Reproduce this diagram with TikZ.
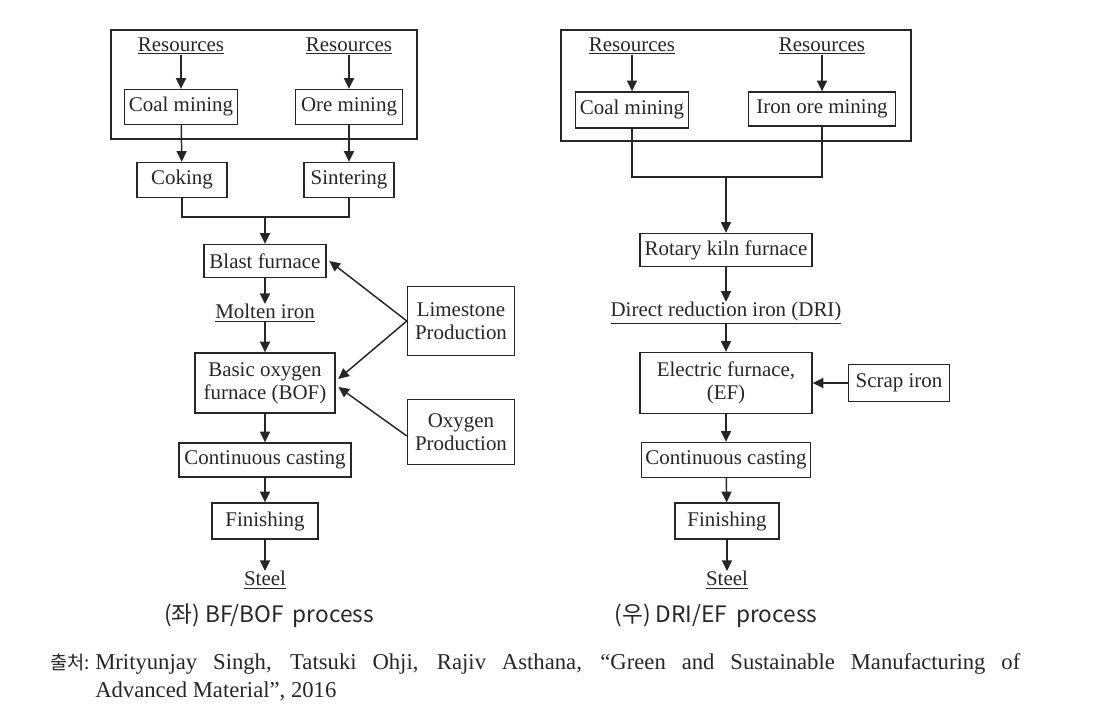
\documentclass[tikz,border=0pt]{standalone}
\usepackage{fontspec}
\setmainfont{Liberation Serif}
\newfontfamily\cjk{Noto Sans CJK KR}
\usetikzlibrary{arrows.meta}
\definecolor{ink}{HTML}{262626}
\newcommand\diagfont{\fontsize{15.7}{17.3}\selectfont}
\tikzset{
  box/.style={draw=ink, line width=1pt, inner sep=0pt, font=\diagfont, text=ink, align=center},
  wh/.style 2 args={minimum width=#1*0.75pt, minimum height=#2*0.75pt},
  lbl/.style={inner sep=0pt, font=\diagfont, text=ink},
  arr/.style={draw=ink, line width=1.1pt, -{Triangle[length=8pt,width=7.5pt]}},
  ln/.style={draw=ink, line width=1pt},
}
\begin{document}
\begin{tikzpicture}[x=0.75pt,y=-0.75pt]
\useasboundingbox (0,0) rectangle (1093,716);
% left: BF/BOF
\draw[ln] (111,30) rectangle (417,139);
\node[lbl] (resL1) at (181,46) {\underline{Resources}};
\node[lbl] (resL2) at (349,46) {\underline{Resources}};
\node[box,wh={113}{35}] (coalL) at (181,107) {Coal mining};
\node[box,wh={107}{35}] (ore) at (349,107) {Ore mining};
\node[box,wh={90}{35}] (coke) at (182,180) {Coking};
\node[box,wh={90}{35}] (sinter) at (349,180) {Sintering};
\coordinate (mergeL) at (265,217);
\node[box,wh={122}{33}] (blast) at (265,261) {Blast furnace};
\node[lbl] (molten) at (265,313) {\underline{Molten iron}};
\node[box,wh={140}{60}] (bof) at (265,383) {Basic oxygen\\furnace (BOF)};
\node[box,wh={107}{69}] (lime) at (461,321) {Limestone\\Production};
\node[box,wh={107}{65}] (oxy) at (461,432) {Oxygen\\Production};
\node[box,wh={172}{34}] (castL) at (265,460) {Continuous casting};
\node[box,wh={106}{36}] (finL) at (265,521) {Finishing};
\node[lbl] (steelL) at (265,580) {\underline{Steel}};
\node[inner sep=0pt, font=\cjk\fontsize{17}{20}\selectfont, text=ink] (capL) at (269,616) {(좌) BF/BOF\, process};
\draw[arr] (resL1) -- (coalL);
\draw[arr] (resL2) -- (ore);
\draw[arr] (coalL) -- (coke);
\draw[arr] (ore) -- (sinter);
\draw[ln] (coke.south) |- (mergeL) -| (sinter.south);
\draw[arr] (mergeL) -- (blast);
\draw[arr] (blast) -- (molten);
\draw[arr] (molten) -- (bof);
\draw[arr] (lime.west) -- ([xshift=2pt]blast.east);
\draw[arr] (lime.west) -- ([xshift=2pt,yshift=3pt]bof.east);
\draw[arr] ([yshift=-3pt]oxy.west) -- ([xshift=2pt,yshift=-3pt]bof.east);
\draw[arr] (bof) -- (castL);
\draw[arr] (castL) -- (finL);
\draw[arr] (finL) -- (steelL);
% right: DRI/EF
\draw[ln] (561,30) rectangle (911,141);
\node[lbl] (resR1) at (632,46) {\underline{Resources}};
\node[lbl] (resR2) at (822,46) {\underline{Resources}};
\node[box,wh={113}{36}] (coalR) at (632,110) {Coal mining};
\node[box,wh={147}{34}] (ironore) at (822,109) {Iron ore mining};
\coordinate (mergeR) at (726,177);
\node[box,wh={172}{33}] (kiln) at (726,250) {Rotary kiln furnace};
\node[lbl] (dri) at (726,313) {\underline{Direct reduction iron (DRI)}};
\node[box,wh={172}{61}] (ef) at (726,383) {Electric furnace,\\(EF)};
\node[box,wh={101}{37}] (scrap) at (899,383) {Scrap iron};
\node[box,wh={169}{35}] (castR) at (726,460) {Continuous casting};
\node[box,wh={104}{36}] (finR) at (727,521) {Finishing};
\node[lbl] (steelR) at (727,580) {\underline{Steel}};
\node[inner sep=0pt, font=\cjk\fontsize{17}{20}\selectfont, text=ink] (capR) at (716,616) {(우) DRI/EF\, process};
\draw[arr] (resR1) -- (coalR);
\draw[arr] (resR2) -- (ironore);
\draw[ln] (coalR.south) |- (mergeR) -| (ironore.south);
\draw[arr] (mergeR) -- (kiln);
\draw[arr] (kiln) -- (dri);
\draw[arr] (dri) -- (ef);
\draw[arr] (scrap) -- (ef);
\draw[arr] (ef) -- (castR);
\draw[arr] (castR) -- (finR);
\draw[arr] (finR) -- (steelR);
% source
\node[anchor=base west, inner sep=0pt, font=\cjk\fontsize{14}{16}\selectfont, text=ink] (srclbl) at (50,669) {출처:};
\node[anchor=base west, inner sep=0pt, font=\fontsize{17}{21}\selectfont, text=ink] (src) at (95,669)
  {\parbox[t]{693.75pt}{Mrityunjay Singh, Tatsuki Ohji, Rajiv Asthana, ``Green and Sustainable Manufacturing of\linebreak Advanced Material'', 2016}};
\end{tikzpicture}
\end{document}
